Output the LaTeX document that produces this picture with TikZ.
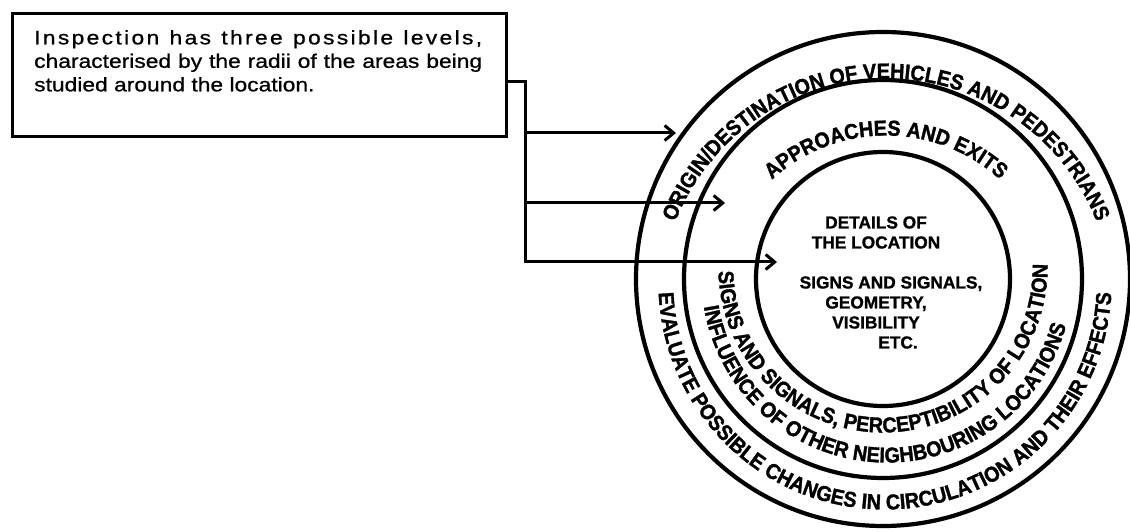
\documentclass[tikz,border=0pt]{standalone}
\usepackage{fontspec}
\setmainfont{Liberation Sans}
\newfontfamily\boxfont[FakeStretch=1.17,FakeBold=0.8]{Liberation Sans}
\newfontfamily\ringfont[FakeStretch=0.92,FakeBold=1.5]{Liberation Sans Bold}
\newfontfamily\centrefont[FakeBold=1.2]{Liberation Sans Bold}
\usetikzlibrary{arrows.meta,decorations.text}

\begin{document}
\begin{tikzpicture}[x=1pt,y=1pt,
	ring/.style={circle,draw,line width=4.2pt,inner sep=0},
	wire/.style={line width=3pt},
	tip/.style={wire,-{Straight Barb[length=9pt,width=15pt]}},
	ringtext/.style={decorate,decoration={text along path,text align=center,
		text={|\ringfont\fontsize{21.5}{24}\selectfont|#1}}}]
\useasboundingbox (0,0) rectangle (1130,531);

% the note and where it points
\node[draw,line width=3pt,anchor=north west,inner sep=0,
	minimum width=494pt,minimum height=123pt] (info) at (11,519) {};
\node[anchor=north west,inner sep=0,text width=448pt,align=justify,
	font=\boxfont\fontsize{19.5}{23.5}\selectfont] (infotext) at (34,501)
	{{\addfontfeatures{LetterSpace=12}Inspection has three possible levels,}\linebreak
	characterised by the radii of the areas being\linebreak
	studied around the location.};

\coordinate (c) at (883,252);
\coordinate (fork) at (525,449);
\coordinate (a1) at (676,398);
\coordinate (a2) at (725,328);
\coordinate (a3) at (777,269);

% the three levels
\node[ring,minimum size=494pt] (outer) at (c) {};
\node[ring,minimum size=398pt] (middle) at (c) {};
\node[ring,minimum size=254pt] (inner) at (c) {};

\draw[tip] (info.east |- fork) -- (fork) -- (fork |- a3) -- (a3);
\draw[tip] (fork |- a1) -- (a1);
\draw[tip] (fork |- a2) -- (a2);

% ring labels
\coordinate (top) at (886,226);
\coordinate (low) at (885,248);
\coordinate (mid) at (887,254);
\coordinate (inn) at (883,263);
\path[ringtext={ORIGIN/DESTINATION OF VEHICLES AND PEDESTRIANS}]
	([shift={(180:226.5pt)}]top) arc[start angle=180,end angle=0,radius=226.5pt];
\path[ringtext={APPROACHES AND EXITS}]
	([shift={(180:169.5pt)}]top) arc[start angle=180,end angle=0,radius=169.5pt];
\path[ringtext={EVALUATE POSSIBLE CHANGES IN CIRCULATION AND THEIR EFFECTS}]
	([shift={(175:226.5pt)}]low) arc[start angle=175,end angle=365,radius=226.5pt];
\path[ringtext={INFLUENCE OF OTHER NEIGHBOURING LOCATIONS}]
	([shift={(160:185.5pt)}]mid) arc[start angle=160,end angle=374.2,radius=185.5pt];
\path[ringtext={SIGNS AND SIGNALS, PERCEPTIBILITY OF LOCATION}]
	([shift={(171:164.5pt)}]inn) arc[start angle=171,end angle=371.5,radius=164.5pt];

\node[align=center,inner sep=0,font=\centrefont\fontsize{17.3}{20}\selectfont]
	(details) at (876,248.5)
	{DETAILS OF\\THE LOCATION\\[20pt]\hspace*{30pt}SIGNS AND SIGNALS,\\
	GEOMETRY,\\VISIBILITY\\\hspace*{44pt}ETC.};
\end{tikzpicture}
\end{document}
